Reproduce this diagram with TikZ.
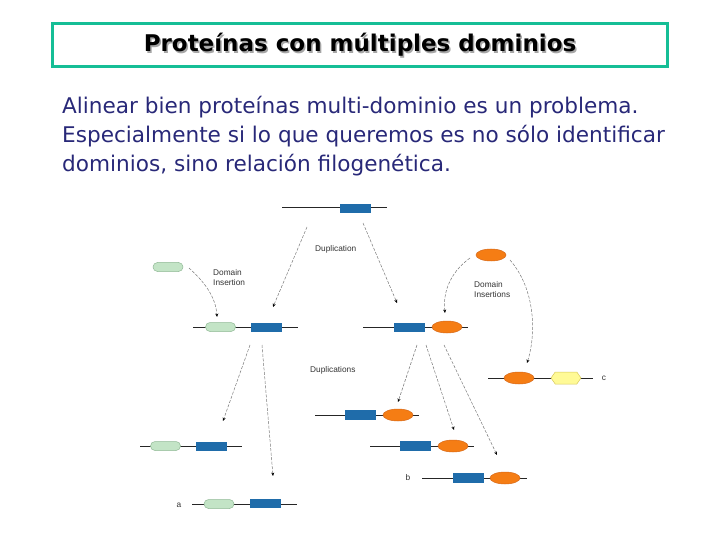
\documentclass[tikz,border=0pt]{standalone}
\usepackage{fontspec}
\setmainfont{DejaVu Sans}
\newfontfamily\labfont{Liberation Sans}
\usetikzlibrary{shapes.misc,shapes.geometric,shapes.symbols,arrows.meta}
\definecolor{blueD}{RGB}{31,108,170}
\definecolor{orangeD}{RGB}{245,125,20}
\definecolor{orangeB}{RGB}{215,105,25}
\definecolor{greenD}{RGB}{195,228,198}
\definecolor{greenB}{RGB}{145,185,150}
\definecolor{yellowD}{RGB}{255,250,150}
\definecolor{yellowB}{RGB}{215,200,90}
\definecolor{titleGreen}{RGB}{22,190,150}
\definecolor{navy}{RGB}{40,40,120}
\definecolor{arrowGray}{RGB}{120,120,120}
\tikzset{
  backbone/.style={line width=1bp, black!85},
  bluedom/.style={rectangle, fill=blueD, minimum width=31bp, minimum height=9.5bp, inner sep=0pt},
  orangedom/.style={ellipse, fill=orangeD, draw=orangeB, line width=0.5bp, minimum width=30bp, minimum height=12bp, inner sep=0pt},
  greendom/.style={rounded rectangle, fill=greenD, draw=greenB, line width=0.5bp, minimum width=30bp, minimum height=9bp, inner sep=0pt},
  yellowdom/.style={signal, signal to=east and west, signal pointer angle=110, fill=yellowD, draw=yellowB, line width=0.5bp, minimum width=30bp, minimum height=12bp, inner sep=0pt},
  evo/.style={draw=arrowGray, line width=0.5bp, dash pattern=on 3bp off 1.5bp, -{Stealth[length=3.5bp,width=3bp,black]}},
  lab/.style={font=\labfont\fontsize{8.3bp}{10bp}\selectfont, text=black!80, align=left, inner sep=0pt},
  body/.style={anchor=base west, text=navy, font=\fontsize{21.6bp}{26bp}\selectfont, inner sep=0pt},
  titletext/.style={font=\bfseries\fontsize{23bp}{27bp}\selectfont}
}
\begin{document}
\begin{tikzpicture}[x=1bp,y=-1bp]
\useasboundingbox (0,0) rectangle (720,540);
% title
\node[draw=titleGreen, line width=3bp, minimum width=614bp, minimum height=43bp, inner sep=0pt] (titlebox) at (360,45.5) {};
\node[text=black!35, titletext] (titleshadow) at (361.5,46.5) {Proteínas con múltiples dominios};
\node[text=black, titletext] (title) at (360,45) {Proteínas con múltiples dominios};
% body text
\node[body] (l1) at (62,114) {Alinear bien proteínas multi-dominio es un problema.};
\node[body] (l2) at (62,143) {Especialmente si lo que queremos es no sólo identificar};
\node[body] (l3) at (62,172) {dominios, sino relación filogenética.};

% P0 top
\draw[backbone] (282,208) coordinate (p0a) -- (387,208) coordinate (p0b);
\node[bluedom] (p0blue) at (355,208.5) {};
% free domains
\node[greendom] (g0) at (168,267) {};
\node[orangedom] (o0) at (491,255) {};
% P1 left
\draw[backbone] (193,327) coordinate (p1la) -- (298,327) coordinate (p1lb);
\node[greendom] (p1lg) at (220.5,327) {};
\node[bluedom] (p1lb) at (266.5,327.5) {};
% P1 right
\draw[backbone] (363,327) coordinate (p1ra) -- (468,327) coordinate (p1rb);
\node[bluedom] (p1rblue) at (409.5,327.5) {};
\node[orangedom] (p1ro) at (447,327) {};
% Pc
\draw[backbone] (488,378) coordinate (pca) -- (593,378) coordinate (pcb);
\node[orangedom] (pco) at (519,378) {};
\node[yellowdom] (pcy) at (566,378) {};
\node[lab] (lc) at (604,378) {c};
% P2a
\draw[backbone] (315,415) coordinate (p2aa) -- (419,415) coordinate (p2ab);
\node[bluedom] (p2ablue) at (360.5,415) {};
\node[orangedom] (p2ao) at (398,415) {};
% P2b
\draw[backbone, line width=0.6bp] (370,446) coordinate (p2ba) -- (474,446) coordinate (p2bb);
\node[bluedom] (p2bblue) at (415.5,446) {};
\node[orangedom] (p2bo) at (453,446) {};
% Pb
\draw[backbone] (422,478) coordinate (pba) -- (527,478) coordinate (pbb);
\node[bluedom] (pbblue) at (468,478) {};
\node[orangedom] (pbo) at (505,478) {};
\node[lab] (lb) at (408,478) {b};
% P3 left
\draw[backbone] (140,446) coordinate (p3la) -- (242,446) coordinate (p3lb);
\node[greendom] (p3lg) at (165.5,446) {};
\node[bluedom] (p3lblue) at (211.5,446.5) {};
% Pa
\draw[backbone] (192,504) coordinate (paa) -- (297,504) coordinate (pab);
\node[greendom] (pag) at (219,504) {};
\node[bluedom] (pablue) at (265.5,503.5) {};
\node[lab] (la) at (179,505) {a};

% labels
\node[lab, anchor=west] (dup) at (315,249) {Duplication};
\node[lab, anchor=west] (dins) at (213,278) {Domain\\Insertion};
\node[lab, anchor=west] (dins2) at (474,290) {Domain\\Insertions};
\node[lab, anchor=west] (dups) at (310,370) {Duplications};

% arrows
\coordinate (a1s) at (307,227); \coordinate (a1e) at (273,307);
\coordinate (a2s) at (363,223); \coordinate (a2e) at (397,303);
\draw[evo] (a1s) -- (a1e);
\draw[evo] (a2s) -- (a2e);
\coordinate (a3s) at (189,268); \coordinate (a3e) at (217,317);
\draw[evo] (a3s) .. controls (208,285) and (216,300) .. (a3e);
\coordinate (a4s) at (470,258); \coordinate (a4e) at (445,313);
\draw[evo] (a4s) .. controls (448,274) and (443,295) .. (a4e);
\coordinate (a5s) at (510,260); \coordinate (a5e) at (527,363);
\draw[evo] (a5s) .. controls (536,290) and (536,335) .. (a5e);
\coordinate (a6s) at (250,345); \coordinate (a6e) at (223,421);
\coordinate (a7s) at (262,345); \coordinate (a7e) at (273,476);
\draw[evo] (a6s) -- (a6e);
\draw[evo] (a7s) -- (a7e);
\coordinate (a8s) at (417,345); \coordinate (a8e) at (398,402);
\coordinate (a9s) at (426,345); \coordinate (a9e) at (454,430);
\coordinate (a10s) at (444,345); \coordinate (a10e) at (497,455);
\draw[evo] (a8s) -- (a8e);
\draw[evo] (a9s) -- (a9e);
\draw[evo] (a10s) -- (a10e);
\end{tikzpicture}
\end{document}
